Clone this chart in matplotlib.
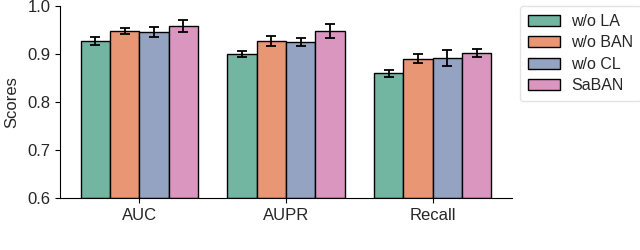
import numpy as np
import matplotlib
matplotlib.use("Agg")
import matplotlib.pyplot as plt
import seaborn as sns

metrics = ["AUC", "AUPR", "Recall"]
models = ["w/o LA", "w/o BAN", "w/o CL", "SaBAN"]

# mean scores per model, ordered like metrics
la_mean = [0.927, 0.900, 0.860]
ban_mean = [0.948, 0.927, 0.890]
cl_mean = [0.946, 0.925, 0.892]
saban_mean = [0.958, 0.948, 0.902]

# error bar half-lengths
la_err = [0.009, 0.007, 0.007]
ban_err = [0.006, 0.011, 0.009]
cl_err = [0.011, 0.008, 0.016]
saban_err = [0.012, 0.014, 0.009]

means = [la_mean, ban_mean, cl_mean, saban_mean]
errs = [la_err, ban_err, cl_err, saban_err]

sns.set_style("ticks")
plt.rcParams["font.family"] = ["Liberation Sans", "DejaVu Sans"]

colors = [sns.desaturate(c, 0.75) for c in sns.color_palette("Set2", 4)]

fig = plt.figure(figsize=(6.4, 2.5), dpi=100)
ax = fig.add_axes([0.094, 0.208, 0.706, 0.768])

x = np.arange(len(metrics))
w = 0.2
for i, name in enumerate(models):
    pos = x - 0.3 + i * w
    ax.bar(pos, np.array(means[i]) - 0.6, bottom=0.6, width=w, color=colors[i],
           edgecolor="black", linewidth=1, label=name)
    ax.errorbar(pos, means[i], yerr=errs[i], fmt="none", ecolor="black",
                elinewidth=1.3, capsize=3.5, capthick=1.3)

ax.set_xlim(-0.54, 2.54)
ax.set_ylim(0.6, 1.0)
ax.set_yticks([0.6, 0.7, 0.8, 0.9, 1.0])
ax.set_xticks(x)
ax.set_xticklabels(metrics)
ax.tick_params(labelsize=12, colors="#262626")
ax.tick_params(axis="both", color="black")
ax.set_ylabel("Scores", fontsize=12, color="#262626", labelpad=6)
for s in ["left", "bottom"]:
    ax.spines[s].set_color("black")
sns.despine(ax=ax)

leg = ax.legend(loc="upper left", bbox_to_anchor=(1.017, 1.0), borderaxespad=0,
                fontsize=11.5, frameon=True, edgecolor="#dddddd",
                handlelength=2.0, handletextpad=0.7, labelspacing=0.4,
                borderpad=0.5)
for t in leg.get_texts():
    t.set_color("#262626")

fig.savefig("out.png", dpi=100)
